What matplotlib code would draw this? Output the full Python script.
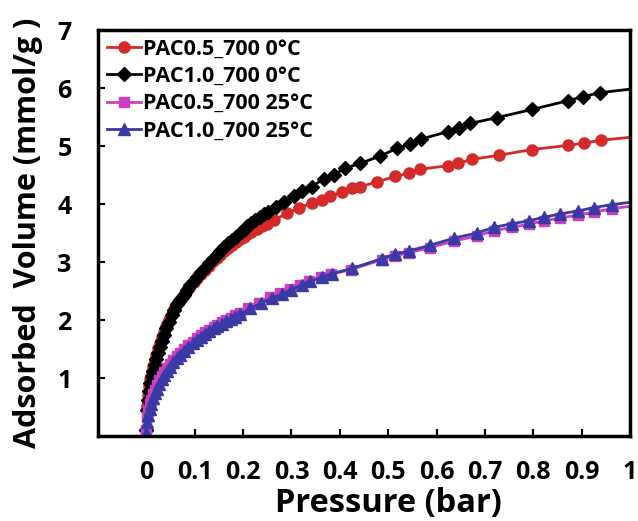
import matplotlib
matplotlib.use("Agg")
import matplotlib.pyplot as plt

plt.rcParams['font.family'] = ['Open Sans', 'DejaVu Sans']
plt.rcParams['font.weight'] = 'bold'

# PAC0.5_700 at 0 C (red circles)
p_05_0 = [0.000, 0.002, 0.004, 0.006, 0.008, 0.011, 0.014, 0.017, 0.020, 0.024,
          0.028, 0.032, 0.036, 0.041, 0.046, 0.052, 0.058, 0.064, 0.070, 0.077,
          0.084, 0.091, 0.098, 0.105, 0.113, 0.121, 0.129, 0.137, 0.145, 0.153,
          0.161, 0.169, 0.177, 0.185, 0.193, 0.201, 0.209, 0.217, 0.229, 0.240,
          0.250, 0.263, 0.291, 0.315, 0.343, 0.363, 0.380, 0.405, 0.425,
          0.442, 0.477, 0.515, 0.542, 0.566, 0.623, 0.645, 0.673, 0.728, 0.797,
          0.871, 0.904, 0.940]
v_05_0 = [0.10, 0.52, 0.70, 0.86, 0.98, 1.10, 1.21, 1.31, 1.40, 1.51,
          1.61, 1.71, 1.80, 1.90, 2.00, 2.10, 2.19, 2.27, 2.35, 2.43,
          2.51, 2.58, 2.65, 2.72, 2.80, 2.87, 2.94, 3.01, 3.07, 3.13,
          3.19, 3.24, 3.29, 3.34, 3.39, 3.44, 3.48, 3.52, 3.57, 3.62,
          3.66, 3.72, 3.84, 3.93, 4.02, 4.07, 4.14, 4.21, 4.27,
          4.30, 4.38, 4.48, 4.53, 4.60, 4.66, 4.70, 4.77, 4.84, 4.94,
          5.01, 5.05, 5.10]

# PAC1.0_700 at 0 C (black diamonds)
p_10_0 = [0.000, 0.002, 0.004, 0.006, 0.008, 0.011, 0.014, 0.017, 0.020, 0.024,
          0.028, 0.032, 0.036, 0.041, 0.046, 0.052, 0.058, 0.064, 0.070, 0.077,
          0.084, 0.091, 0.098, 0.105, 0.113, 0.121, 0.129, 0.137, 0.145, 0.153,
          0.161, 0.169, 0.177, 0.185, 0.193, 0.201, 0.209, 0.217, 0.225, 0.234,
          0.243, 0.252, 0.267, 0.284, 0.305, 0.322, 0.343, 0.367, 0.387, 0.411,
          0.442, 0.484, 0.518, 0.544, 0.568, 0.624, 0.647, 0.670, 0.725, 0.797,
          0.871, 0.902, 0.938]
v_10_0 = [0.10, 0.45, 0.62, 0.78, 0.91, 1.03, 1.13, 1.23, 1.33, 1.44,
          1.54, 1.64, 1.74, 1.86, 1.97, 2.08, 2.18, 2.27, 2.35, 2.44,
          2.52, 2.60, 2.67, 2.74, 2.82, 2.90, 2.98, 3.06, 3.13, 3.19,
          3.26, 3.32, 3.38, 3.44, 3.50, 3.56, 3.62, 3.67, 3.72, 3.77,
          3.82, 3.87, 3.95, 4.04, 4.13, 4.23, 4.30, 4.44, 4.50, 4.62,
          4.70, 4.83, 4.96, 5.03, 5.12, 5.25, 5.31, 5.39, 5.49, 5.63,
          5.78, 5.85, 5.92]

# PAC0.5_700 at 25 C (magenta squares)
p_05_25 = [0.000, 0.002, 0.004, 0.007, 0.010, 0.014, 0.018, 0.022, 0.027, 0.032,
           0.037, 0.043, 0.049, 0.056, 0.063, 0.070, 0.078, 0.087, 0.096, 0.105,
           0.113, 0.122, 0.130, 0.139, 0.147, 0.156, 0.165, 0.174, 0.184, 0.194,
           0.210, 0.232, 0.255, 0.277, 0.296, 0.318, 0.337, 0.360, 0.382, 0.423,
           0.487, 0.515, 0.542, 0.587, 0.635, 0.683, 0.719, 0.756, 0.790, 0.821,
           0.855, 0.892, 0.926, 0.962]
v_05_25 = [0.10, 0.33, 0.44, 0.55, 0.63, 0.72, 0.80, 0.88, 0.96, 1.03,
           1.10, 1.17, 1.24, 1.31, 1.38, 1.44, 1.50, 1.57, 1.63, 1.69,
           1.74, 1.79, 1.83, 1.88, 1.92, 1.96, 2.00, 2.04, 2.08, 2.12,
           2.21, 2.30, 2.39, 2.47, 2.53, 2.61, 2.67, 2.74, 2.79, 2.87,
           3.04, 3.11, 3.16, 3.25, 3.36, 3.45, 3.54, 3.60, 3.65, 3.71,
           3.76, 3.81, 3.86, 3.92]

# PAC1.0_700 at 25 C (blue triangles)
p_10_25 = [0.000, 0.002, 0.004, 0.007, 0.010, 0.014, 0.018, 0.022, 0.027, 0.032,
           0.037, 0.043, 0.049, 0.056, 0.063, 0.070, 0.078, 0.087, 0.096, 0.105,
           0.113, 0.122, 0.130, 0.139, 0.147, 0.156, 0.165, 0.174, 0.184, 0.194,
           0.215, 0.236, 0.260, 0.281, 0.298, 0.322, 0.339, 0.363, 0.384, 0.425,
           0.487, 0.515, 0.542, 0.587, 0.635, 0.683, 0.719, 0.756, 0.790, 0.821,
           0.855, 0.892, 0.926, 0.962]
v_10_25 = [0.05, 0.25, 0.36, 0.47, 0.56, 0.66, 0.74, 0.82, 0.90, 0.98,
           1.05, 1.12, 1.19, 1.27, 1.34, 1.40, 1.47, 1.54, 1.60, 1.66,
           1.71, 1.76, 1.81, 1.86, 1.90, 1.94, 1.98, 2.02, 2.06, 2.10,
           2.20, 2.29, 2.38, 2.45, 2.52, 2.61, 2.67, 2.74, 2.80, 2.89,
           3.06, 3.14, 3.19, 3.29, 3.41, 3.50, 3.60, 3.66, 3.71, 3.77,
           3.83, 3.88, 3.94, 3.99]

# the drawn lines run on to 1 bar past the last marker
line_end_p = 1.0
line_end_v = [5.15, 5.98, 3.96, 4.03]

labels = ['PAC0.5_700 0°C', 'PAC1.0_700 0°C', 'PAC0.5_700 25°C', 'PAC1.0_700 25°C']
colors = ['#d42a2a', 'black', '#cc3fc0', '#3a3aa6']
markers = ['o', 'D', 's', '^']
msizes = [8, 7, 6.5, 8]

fig = plt.figure(figsize=(6.38, 5.21), dpi=100)
ax = fig.add_axes([0.1536, 0.163, 0.834, 0.7794])

series = [(p_05_0, v_05_0), (p_10_0, v_10_0), (p_05_25, v_05_25), (p_10_25, v_10_25)]
for i, (p, v) in enumerate(series):
    xs = list(p) + [line_end_p]
    ys = list(v) + [line_end_v[i]]
    ax.plot(xs, ys, color=colors[i], lw=2, marker=markers[i], ms=msizes[i],
            mfc=colors[i], mec=colors[i], markevery=list(range(len(p))),
            label=labels[i])

ax.set_xlim(-0.1, 1.0)
ax.set_ylim(0, 7)
ax.set_xticks([0, 0.1, 0.2, 0.3, 0.4, 0.5, 0.6, 0.7, 0.8, 0.9, 1.0])
ax.set_xticklabels(['0', '0.1', '0.2', '0.3', '0.4', '0.5', '0.6', '0.7', '0.8', '0.9', '1'])
ax.set_yticks([1, 2, 3, 4, 5, 6, 7])
ax.tick_params(direction='in', length=5, width=1.5, labelsize=18, colors='black')
ax.tick_params(axis='x', pad=17)
ax.tick_params(axis='y', pad=19)
for lab in ax.get_xticklabels() + ax.get_yticklabels():
    lab.set_fontweight('bold')
for s in ax.spines.values():
    s.set_linewidth(2.5)

ax.set_xlabel('Pressure (bar)', fontsize=23.5, fontweight='bold')
# the label sits centred over the 0..1 range, not over the whole axis
ax.xaxis.set_label_coords(0.545, -0.125)
ax.set_ylabel('Adsorbed  Volume (mmol/g )', fontsize=22, fontweight='bold', labelpad=10)

ax.legend(loc='upper left', bbox_to_anchor=(0.008, 0.99), frameon=False,
          prop={'size': 15.5, 'weight': 'bold'}, handlelength=1.6,
          handletextpad=0.1, labelspacing=0.3, borderaxespad=0, borderpad=0.2)

fig.savefig('out.png', dpi=100)
